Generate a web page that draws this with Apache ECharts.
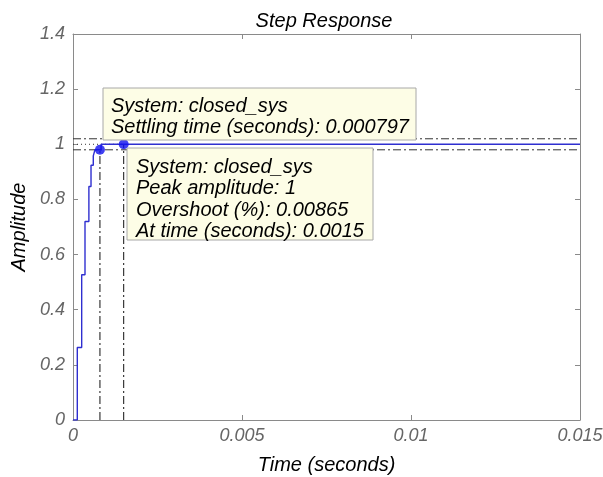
<!DOCTYPE html>
<html>
<head>
<meta charset="utf-8">
<script src="https://cdn.jsdelivr.net/npm/echarts@6/dist/echarts.min.js"></script>
<style>html,body{margin:0;padding:0;background:#fff}#c{width:603px;height:477px}</style>
</head>
<body>
<div id="c"></div>
<script>
// ---- data ----
var stepTimes = [0, 0.000127, 0.000257, 0.000355, 0.000470, 0.000533, 0.000600, 0.000650, 0.000830, 0.015];
var stepAmps  = [0, 0.263, 0.527, 0.720, 0.847, 0.924, 0.958, 0.980, 1.000, 1.000];
var settleBounds = [1.02, 0.98];
var timeRange = [0, 0.015];
var settlingPoint = [0.000797, 0.98];
var peakPoint = [0.0015, 1.0];
var overshootPct = 0.00865;
var systemName = 'closed_sys';
var yTicks = [0, 0.2, 0.4, 0.6, 0.8, 1, 1.2, 1.4];
var xTicks = [0, 0.005, 0.01, 0.015];

var chart = echarts.init(document.getElementById('c'), null, {renderer: 'canvas'});
var FONT = 'Liberation Sans, Arial, sans-serif';
var stepData = stepTimes.map(function (t, i) { return [t, stepAmps[i]]; });
var dashDot = [8, 3, 2, 3];
var axisCol = '#8a8a8a';
var labelCol = '#666666';
var boxFont = 'italic 20px ' + FONT;

function axisBase(extra) {
  var o = {
    axisLine: {show: true, onZero: false, lineStyle: {color: axisCol, width: 1}},
    axisTick: {show: true, inside: true, length: 5, lineStyle: {color: axisCol}},
    splitLine: {show: false}
  };
  for (var k in extra) o[k] = extra[k];
  return o;
}

var option = {
  backgroundColor: '#ffffff',
  animation: false,
  title: {
    text: 'Step Response', left: 319, textAlign: 'center', top: 6,
    textStyle: {fontFamily: FONT, fontStyle: 'italic', fontWeight: 'normal', fontSize: 20, color: '#000'}
  },
  grid: {left: 73, right: 23, top: 34, bottom: 57, containLabel: false, outerBoundsMode: 'none'},
  xAxis: [
    axisBase({type: 'value', position: 'bottom', min: xTicks[0], max: xTicks[xTicks.length - 1], interval: xTicks[1] - xTicks[0],
      name: 'Time (seconds)', nameLocation: 'middle', nameGap: 35,
      nameTextStyle: {fontFamily: FONT, fontStyle: 'italic', fontSize: 20, color: '#000'},
      axisLabel: {fontFamily: FONT, fontStyle: 'italic', fontSize: 18, color: labelCol, margin: 7,
        formatter: function (v) { return String(+v.toFixed(3)); }}}),
    axisBase({type: 'value', position: 'top', min: xTicks[0], max: xTicks[xTicks.length - 1], interval: xTicks[1] - xTicks[0],
      axisLabel: {show: false}})
  ],
  yAxis: [
    axisBase({type: 'value', position: 'left', min: yTicks[0], max: yTicks[yTicks.length - 1], interval: yTicks[1] - yTicks[0],
      name: 'Amplitude', nameLocation: 'middle', nameGap: 29, nameRotate: 90,
      nameTextStyle: {fontFamily: FONT, fontStyle: 'italic', fontSize: 20, color: '#000'},
      axisLabel: {fontFamily: FONT, fontStyle: 'italic', fontSize: 18, color: labelCol, margin: 8,
        formatter: function (v) { return String(+v.toFixed(1)); }}}),
    axisBase({type: 'value', position: 'right', min: yTicks[0], max: yTicks[yTicks.length - 1], interval: yTicks[1] - yTicks[0],
      axisLabel: {show: false}})
  ],
  series: [
    {
      type: 'line', name: 'upper', data: [[timeRange[0], settleBounds[0]], [timeRange[1], settleBounds[0]]],
      showSymbol: false, lineStyle: {color: '#333', width: 1, type: dashDot}, z: 2, silent: true
    },
    {
      type: 'line', name: 'lower', data: [[timeRange[0], settleBounds[1]], [timeRange[1], settleBounds[1]]],
      showSymbol: false, lineStyle: {color: '#333', width: 1, type: dashDot}, z: 2, silent: true
    },
    {
      type: 'line', name: 'settleV', data: [[settlingPoint[0], 0], settlingPoint],
      showSymbol: false, lineStyle: {color: '#111', width: 1, type: dashDot}, z: 2, silent: true
    },
    {
      type: 'line', name: 'peakV', data: [[peakPoint[0], 0], peakPoint],
      showSymbol: false, lineStyle: {color: '#111', width: 1, type: dashDot}, z: 2, silent: true
    },
    {
      type: 'line', name: 'peakH', data: [[timeRange[0], peakPoint[1]], peakPoint],
      showSymbol: false, lineStyle: {color: '#333', width: 1, type: [1, 3]}, z: 2, silent: true
    },
    {
      type: 'line', name: 'step', data: stepData, step: 'end',
      showSymbol: false, lineStyle: {color: '#2f2fd0', width: 1.4}, z: 3, silent: true
    },
    {
      type: 'scatter', name: 'marks', data: [settlingPoint, peakPoint],
      symbol: 'circle', symbolSize: 10, itemStyle: {color: '#1010ee'}, z: 4, silent: true
    }
  ],
  graphic: [
    {type: 'rect', z: 100, shape: {x: 103, y: 88, width: 313, height: 52},
      style: {fill: '#fdfde6', stroke: '#a8a8a8', lineWidth: 1}},
    {type: 'text', z: 101, x: 111, y: 106,
      style: {text: 'System: ' + systemName, font: boxFont, fill: '#000', verticalAlign: 'middle'}},
    {type: 'text', z: 101, x: 111, y: 127,
      style: {text: 'Settling time (seconds): ' + settlingPoint[0], font: boxFont, fill: '#000', verticalAlign: 'middle'}},
    {type: 'rect', z: 100, shape: {x: 127, y: 148, width: 246, height: 92},
      style: {fill: '#fdfde6', stroke: '#a8a8a8', lineWidth: 1}},
    {type: 'text', z: 101, x: 136, y: 167,
      style: {text: 'System: ' + systemName, font: boxFont, fill: '#000', verticalAlign: 'middle'}},
    {type: 'text', z: 101, x: 136, y: 188.5,
      style: {text: 'Peak amplitude: ' + peakPoint[1], font: boxFont, fill: '#000', verticalAlign: 'middle'}},
    {type: 'text', z: 101, x: 136, y: 210,
      style: {text: 'Overshoot (%): ' + overshootPct, font: boxFont, fill: '#000', verticalAlign: 'middle'}},
    {type: 'text', z: 101, x: 136, y: 231,
      style: {text: 'At time (seconds): ' + peakPoint[0], font: boxFont, fill: '#000', verticalAlign: 'middle'}}
  ]
};
chart.setOption(option);
</script>
</body>
</html>
